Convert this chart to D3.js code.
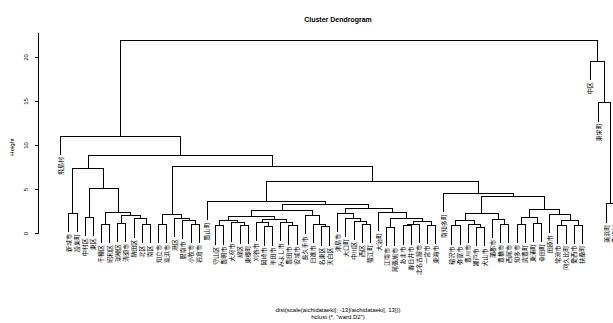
<!DOCTYPE html>
<html>
<head>
<meta charset="utf-8">
<script src="https://cdn.jsdelivr.net/npm/d3@7"></script>
<style>
  body { margin: 0; background: #fff; }
  svg { display: block; font-family: "Liberation Sans", Arial, sans-serif; }
</style>
</head>
<body>
<svg id="chart" width="613" height="323"></svg>
<script>
// leaves, in the order they are plotted
const leaves = [
  '飛島村', '新城市', '設楽町', '中村区', '東区', '千種区', '昭和区', '瑞穂区', '清須市', '熱田区',
  '北区', '南区', '知立市', '高浜市', '港区', '碧南市', '小牧市', '岩倉市', '豊山町', '守山区',
  '豊明市', '大府市', '緑区', '東郷町', '刈谷市', '岡崎市', '半田市', 'みよし市', '豊田市', '安城市',
  '長久手市', '日進市', '名東区', '天白区', '津島市', '大口町', '中川区', '西区', '蟹江町', '大治町',
  '江南市', '尾張旭市', 'あま市', '春日井市', '北名古屋市', '一宮市', '東海市', '南知多町', '稲沢市', '弥富市',
  '豊川市', '瀬戸市', '犬山市', '蒲郡市', '豊橋市', '西尾市', '知多市', '武豊町', '東浦町', '幸田町',
  '田原市', '常滑市', '阿久比町', '愛西市', '扶桑町', '中区', '東栄町', '美浜町', '豊根村'
];

// merge matrix as in R's hclust: negative = leaf (position in leaves), positive = earlier merge row
const mergeLeft = [
  -6, -8, -11, -10, 2, 1, -4, 7, -2, 9,
  -13, -17, -16, -15, 11, -20, -23, -22, 16, -26,
  -25, -29, -28, 21, 19, -33, -32, -31, 25, -38,
  -37, -36, -35, -41, -43, 35, -46, 36, 34, -40,
  33, 29, -19, -49, -52, -51, 44, -55, -54, 47,
  -57, -59, 51, -62, -64, 54, -61, 53, 50, -48,
  43, 15, 10, -1, -68, -67, -66, 64
];
const mergeRight = [
  -7, -9, -12, 3, 4, 5, -5, 6, -3, 8,
  -14, -18, 12, 13, 14, -21, -24, 17, 18, -27,
  20, -30, 22, 23, 24, -34, 26, 27, 28, -39,
  30, 31, 32, -42, -44, -45, -47, 37, 38, 39,
  40, 41, 42, -50, -53, 45, 46, -56, 48, 49,
  -58, -60, 52, -63, -65, 55, 56, 57, 58, 59,
  60, 61, 62, 63, -69, 65, 66, 67
];
const mergeHeight = [
  1.0, 1.1, 0.95, 1.6, 2.0, 2.3, 1.75, 5.1, 2.25, 7.35,
  1.0, 1.0, 1.4, 1.67, 2.05, 0.8, 0.9, 1.15, 1.4, 0.7,
  1.2, 0.8, 1.2, 1.5, 1.85, 0.7, 0.95, 1.97, 2.55, 1.0,
  1.36, 1.67, 2.25, 0.65, 0.8, 1.0, 0.9, 1.35, 1.7, 2.35,
  2.8, 3.26, 3.56, 0.8, 0.6, 1.0, 1.4, 1.0, 1.55, 2.24,
  1.0, 1.1, 1.74, 0.9, 0.9, 1.4, 2.1, 2.7, 4.1, 4.5,
  5.9, 7.56, 8.86, 11.0, 3.3, 14.8, 19.5, 21.9
];

const yTicks = [0, 5, 10, 15, 20];

// NOTE: layout (R base graphics look)
const plotLeft = 38.5;
const hang = 0.1 * (d3.max(mergeHeight) - d3.min(mergeHeight));

const x = d3.scaleLinear().domain([1, leaves.length]).range([60.7, 614.9]);
const y = d3.scaleLinear().domain([0, 20]).range([233, 57]);

// build the nested tree from the merge matrix
function buildNode(ref) {
  if (ref < 0) return { name: leaves[-ref - 1], index: -ref };
  const i = ref - 1;
  return {
    height: mergeHeight[i],
    children: [buildNode(mergeLeft[i]), buildNode(mergeRight[i])]
  };
}
const root = d3.hierarchy(buildNode(mergeLeft.length));

// x of a node = midpoint of its two children, as in plot.hclust
root.eachAfter((n) => {
  n.px = n.children ? (n.children[0].px + n.children[1].px) / 2 : x(n.data.index);
});
root.each((n) => {
  n.py = n.children ? y(n.data.height) : y(n.parent.data.height - hang);
});

const svg = d3.select('#chart');
const g = svg.append('g');

// dendrogram branches
g.selectAll('.branch')
  .data(root.descendants().filter((n) => n.children))
  .join('path')
  .attr('class', 'branch')
  .attr('fill', 'none')
  .attr('stroke', '#000')
  .attr('stroke-width', 1)
  .attr('shape-rendering', 'crispEdges')
  .attr('d', (n) => {
    const [a, b] = n.children;
    return `M${a.px},${a.py}V${n.py}H${b.px}V${b.py}`;
  });

// leaf labels, hanging below leaf ends
g.selectAll('.leaf')
  .data(root.leaves())
  .join('text')
  .attr('class', 'leaf')
  .attr('transform', (n) => `translate(${n.px + 2},${n.py + 2}) rotate(-90)`)
  .attr('text-anchor', 'end')
  .attr('font-family', '"Noto Sans CJK JP", sans-serif')
  .attr('font-size', 6)
  .attr('fill', '#000')
  .text((n) => n.data.name);

// y axis
const yAxis = d3.axisLeft(y).tickValues(yTicks).tickSize(4).tickPadding(3);
const axisG = svg.append('g')
  .attr('transform', `translate(${plotLeft},0)`)
  .call(yAxis);
axisG.select('.domain').remove();
axisG.selectAll('.tick line').attr('stroke', '#000').attr('shape-rendering', 'crispEdges');
axisG.selectAll('.tick text')
  .attr('x', null).attr('dy', null)
  .attr('font-family', '"Liberation Sans", Arial, sans-serif')
  .attr('font-size', 6)
  .attr('fill', '#000')
  .attr('text-anchor', 'middle')
  .attr('transform', 'translate(-10.5,0) rotate(-90)');
axisG.append('line')
  .attr('x1', 0).attr('x2', 0)
  .attr('y1', y(0)).attr('y2', 33)
  .attr('stroke', '#000')
  .attr('shape-rendering', 'crispEdges');

// titles
svg.append('text')
  .attr('x', 338).attr('y', 22)
  .attr('text-anchor', 'middle')
  .attr('font-size', 7)
  .attr('font-weight', 'bold')
  .text('Cluster Dendrogram');

svg.append('text')
  .attr('transform', 'translate(14,147) rotate(-90)')
  .attr('text-anchor', 'middle')
  .attr('font-size', 6)
  .text('Height');

svg.append('text')
  .attr('x', 338).attr('y', 312)
  .attr('text-anchor', 'middle')
  .attr('font-size', 6)
  .text('dist(scale(aichidataeki[, -13]/aichidataeki[, 13]))');

svg.append('text')
  .attr('x', 338).attr('y', 318.5)
  .attr('text-anchor', 'middle')
  .attr('font-size', 6)
  .text('hclust (*, "ward.D2")');
</script>
</body>
</html>
